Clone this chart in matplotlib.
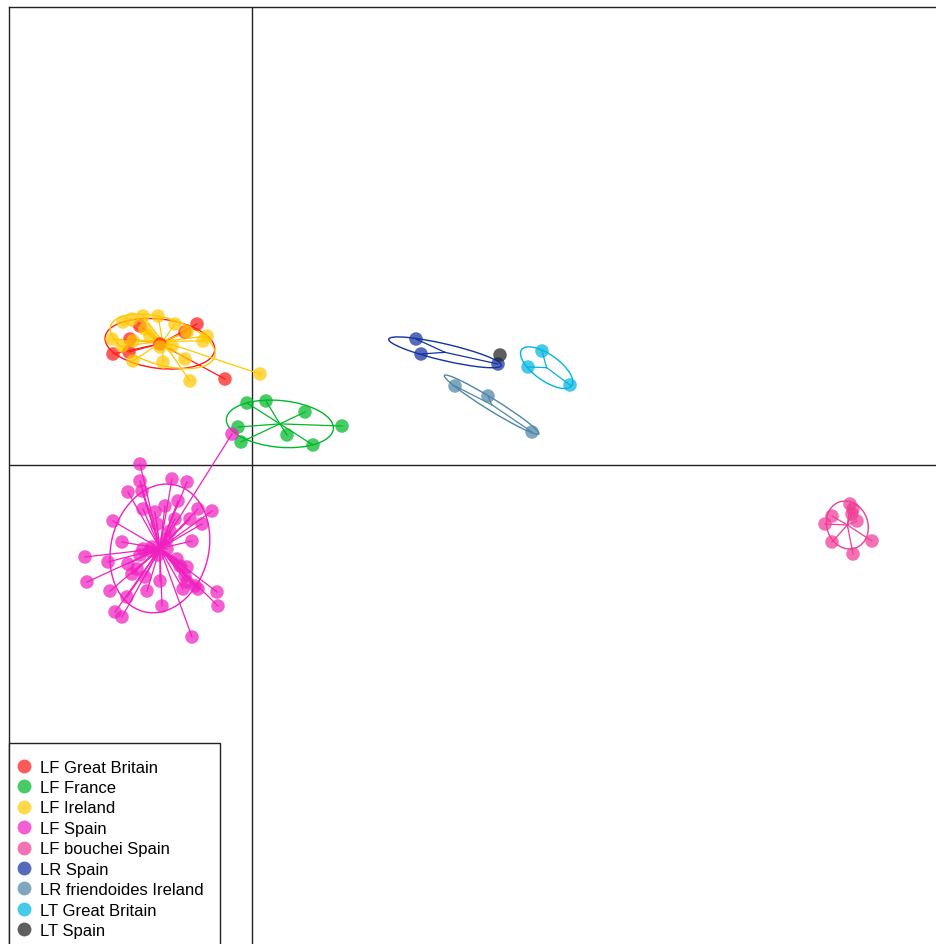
import numpy as np
import matplotlib
matplotlib.use("Agg")
import matplotlib.pyplot as plt
from matplotlib.patches import Ellipse, Rectangle
from matplotlib.lines import Line2D

plt.rcParams['font.family'] = ['Liberation Sans', 'DejaVu Sans']

groups = ["LF Great Britain", "LF France", "LF Ireland", "LF Spain",
          "LF bouchei Spain", "LR Spain", "LR friendoides Ireland",
          "LT Great Britain", "LT Spain"]
colors = ["#FF1A1A", "#00B828", "#FFC800", "#F020C0", "#F03C96",
          "#1432A0", "#4F86A8", "#00B4E0", "#222222"]

# discriminant function scores (LD1, LD2)
lf_gb_x = [-0.55, -1.39, -1.23, -0.27, -1.12, -0.67, -0.92, -1.22]
lf_gb_y = [1.41, 1.11, 1.13, 0.86, 1.39, 1.33, 1.21, 1.26]

lf_fr_x = [-0.05, 0.14, 0.53, 0.90, -0.14, 0.35, -0.11, 0.61]
lf_fr_y = [0.62, 0.64, 0.53, 0.39, 0.38, 0.30, 0.23, 0.20]

lf_ie_x = [-1.20, -1.09, -0.94, -0.45, -0.49, -1.40, -1.30, -1.19, -0.92, -0.89,
           -0.67, -0.62, 0.08, -1.19, -0.65, -1.02, -0.80, -1.29, -1.07, -0.77]
lf_ie_y = [1.46, 1.49, 1.49, 1.29, 1.24, 1.26, 1.19, 1.24, 1.18, 1.03,
           1.06, 0.84, 0.91, 1.04, 1.33, 1.29, 1.19, 1.43, 1.36, 1.41]

lf_es_x = [-1.12, -1.12, -1.24, -1.10, -0.80, -0.65, -0.74, -0.87, -1.09, -0.97,
           -0.54, -0.40, -0.62, -0.50, -1.39, -0.95, -0.82, -0.60, -1.30, -1.09,
           -1.02, -0.85, -1.67, -1.44, -1.24, -1.15, -1.20, -0.75, -0.72, -0.65,
           -1.65, -0.92, -1.07, -0.67, -0.65, -0.57, -0.69, -1.42, -1.05, -0.35,
           -0.54, -0.34, -1.25, -0.90, -1.37, -1.30, -0.60, -0.85, -0.20, -1.00,
           -0.94, -1.12, -0.77]
lf_es_y = [0.01, -0.16, -0.27, -0.26, -0.14, -0.17, -0.36, -0.41, -0.44, -0.47,
           -0.44, -0.46, -0.54, -0.59, -0.56, -0.59, -0.66, -0.76, -0.77, -0.84,
           -0.86, -0.84, -0.92, -0.97, -0.99, -1.04, -1.09, -0.94, -1.01, -1.02,
           -1.17, -1.16, -1.12, -1.11, -1.17, -1.21, -1.24, -1.26, -1.26, -1.27,
           -1.24, -1.41, -1.32, -1.41, -1.47, -1.52, -1.72, -0.74, 0.31, -0.82,
           -0.90, -0.90, -0.54]

lf_bo_x = [5.98, 5.80, 5.73, 6.00, 6.05, 6.01, 5.80, 6.20, 6.01]
lf_bo_y = [-0.39, -0.51, -0.59, -0.49, -0.56, -0.44, -0.77, -0.76, -0.89]

lr_es_x = [1.64, 1.69, 2.46]
lr_es_y = [1.26, 1.11, 1.01]

lr_fr_x = [2.03, 2.36, 2.80]
lr_fr_y = [0.79, 0.69, 0.33]

lt_gb_x = [2.90, 2.76, 3.18]
lt_gb_y = [1.14, 0.98, 0.80]

lt_es_x = [2.48]
lt_es_y = [1.10]

xs = [lf_gb_x, lf_fr_x, lf_ie_x, lf_es_x, lf_bo_x, lr_es_x, lr_fr_x, lt_gb_x, lt_es_x]
ys = [lf_gb_y, lf_fr_y, lf_ie_y, lf_es_y, lf_bo_y, lr_es_y, lr_fr_y, lt_gb_y, lt_es_y]

W, H = 937, 945
fig = plt.figure(figsize=(W / 100, H / 100), dpi=100)
ax = fig.add_axes([9 / W, 0, 1 - 9 / W, (H - 8) / H])
ax.set_xlim(-2.43, 6.85)
ax.set_ylim(-4.79, 4.58)
ax.set_xticks([])
ax.set_yticks([])
for s in ["right", "bottom"]:
    ax.spines[s].set_visible(False)
for s in ["left", "top"]:
    ax.spines[s].set_color("#222222")
    ax.spines[s].set_linewidth(1.0)

ax.axhline(0, color="#222222", lw=1.0, zorder=1)
ax.axvline(0, color="#222222", lw=1.0, zorder=1)

for x, y, c in zip(xs, ys, colors):
    x = np.array(x)
    y = np.array(y)
    mx, my = x.mean(), y.mean()
    # star lines from the group centre
    for xi, yi in zip(x, y):
        ax.plot([mx, xi], [my, yi], color=c, lw=0.9, zorder=2)
    # inertia ellipse (cellipse = 1.5)
    if len(x) > 1:
        cov = np.cov(np.vstack([x, y]), bias=True)
        vals, vecs = np.linalg.eigh(cov)
        ang = np.degrees(np.arctan2(vecs[1, 1], vecs[0, 1]))
        w = 2 * 1.5 * np.sqrt(max(vals[1], 1e-6))
        h = 2 * 1.5 * np.sqrt(max(vals[0], 1e-4))
        ax.add_patch(Ellipse((mx, my), w, h, angle=ang, fill=False,
                             edgecolor=c, lw=1.0, zorder=2))
    ax.scatter(x, y, s=95, color=c, alpha=0.72, edgecolors="none", zorder=3)

# legend box (runs off the bottom edge, as in the original)
fig.patches.append(Rectangle((9 / W, -0.02), (220 - 9) / W, (945 - 744) / H + 0.02,
                             transform=fig.transFigure, facecolor="white",
                             edgecolor="#222222", lw=1.0, zorder=4))

handles = [Line2D([], [], marker="o", linestyle="none", markersize=10,
                  markerfacecolor=c, markeredgecolor="none", alpha=0.72)
           for c in colors]
leg = fig.legend(handles, groups, loc="lower left",
                 bbox_to_anchor=(16.5 / W, (945 - 939) / H),
                 bbox_transform=fig.transFigure, frameon=False, fontsize=12,
                 borderaxespad=0, borderpad=0, handletextpad=0.5,
                 labelspacing=0.325, handlelength=0.9)
leg.set_zorder(5)

fig.savefig("out.png", dpi=100)
